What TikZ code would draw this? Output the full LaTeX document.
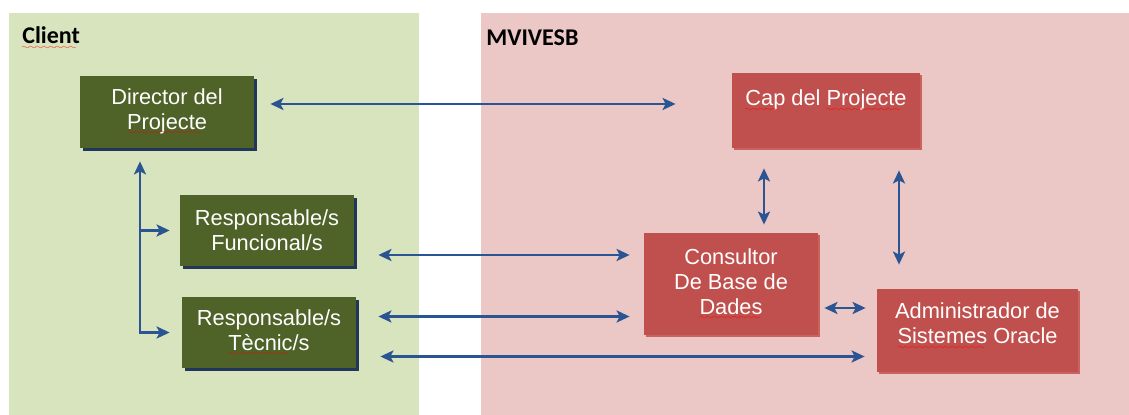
\documentclass[tikz,border=0pt]{standalone}
\usepackage{fontspec}
\setmainfont{Liberation Sans}
\newfontfamily\headfont{Carlito}
\usepackage{xcolor}
\usepackage{tikz}
\usetikzlibrary{positioning}
\usetikzlibrary{calc}
\usetikzlibrary{shadows}
\usetikzlibrary{arrows.meta}

\definecolor{clientbg}{HTML}{D7E4BD}
\definecolor{mvbg}{HTML}{EBC7C6}
\definecolor{greenfill}{HTML}{4F6228}
\definecolor{redfill}{HTML}{C0504D}
\definecolor{navyshadow}{HTML}{22365A}
\definecolor{redshadow}{HTML}{C86360}
\definecolor{arrowblue}{HTML}{2A5592}

\font\wavefont=lasy6 at 4pt
\newsavebox\spellbox
\newcommand\spell[1]{\sbox\spellbox{#1}\rlap{\usebox\spellbox}\raisebox{-2.6pt}{\textcolor{red}{\wavefont\leaders\hbox{\char58}\hskip\wd\spellbox}}}

\begin{document}
\begin{tikzpicture}[x=0.5pt,y=0.5pt,
	head/.style={inner sep=0pt,anchor=west,font=\headfont\bfseries\fontsize{12}{14}\selectfont},
	box/.style={text=white,align=center,inner sep=0pt,font=\fontsize{10.9}{12.5}\selectfont},
	greenbox/.style={box,fill=greenfill,drop shadow={shadow xshift=1.5pt,shadow yshift=-1.5pt,fill=navyshadow,opacity=1}},
	redbox/.style={box,fill=redfill,drop shadow={shadow xshift=1pt,shadow yshift=-1pt,fill=redshadow,opacity=1}},
	arr/.style={draw=arrowblue,line width=1.3pt,{Stealth[length=6.5pt,width=6pt,inset=1.5pt]}-{Stealth[length=6.5pt,width=6pt,inset=1.5pt]}},
	arrone/.style={draw=arrowblue,line width=1.3pt,-{Stealth[length=6.5pt,width=6pt,inset=1.5pt]}}]
	\useasboundingbox (0,0) rectangle (1129,415);
	\fill[clientbg] (9,0) rectangle (419,402);
	\fill[mvbg] (481,0) rectangle (1129,402);

	\node[head] (cl) at (22,377) {\spell{Client}};
	\node[head] (mv) at (486,377) {MVIVESB};

	\node[greenbox, minimum width=87pt, minimum height=36pt] (dir) at (167,303) {Director del\\\spell{Projecte}};
	\node[greenbox, minimum width=87pt, minimum height=35.5pt] (fun) at (267,184.5) {Responsable/s\\Funcional/s};
	\node[greenbox, minimum width=87pt, minimum height=35.5pt] (tec) at (269,82.5) {Responsable/s\\\spell{Tècnic}/s};
	\node[redbox, minimum width=94pt, minimum height=37.5pt] (cap) at (826,304.5) {\spell{Cap} del \spell{Projecte}\\\mbox{}};
	\node[redbox, minimum width=87pt, minimum height=51pt] (con) at (731,131) {Consultor\\De Base de\\\spell{Dades}};
	\node[redbox, minimum width=100.5pt, minimum height=41.5pt] (adm) at (977.5,84.5) {Administrador de\\\spell{Sistemes} Oracle\\[-5.5pt]\mbox{}};

	\coordinate (trunk) at ($(dir.south)+(-27,-13)$);
	\draw[arr] (trunk) |- ($(tec.west)+(-12,0)$);
	\draw[arrone] (trunk |- fun.west) -- ($(fun.west)+(-10,0)$);

	\draw[arr] ($(dir.east)+(16,8)$) -- ($(cap.west)+(-56,6.5)$);
	\draw[arr] ($(fun.east)+(24,-24.5)$) -- ($(con.west)+(-14,29)$);
	\draw[arr] ($(tec.east)+(22,16)$) -- ($(con.west)+(-14,-32.5)$);
	\draw[arr] ($(tec.east)+(24,-24)$) -- ($(adm.west)+(-12,-26)$);
	\draw[arr] ($(con.east)+(6,-24)$) -- ($(adm.west)+(-11,22.5)$);
	\draw[arr] ($(cap.south)+(-62,-20)$) -- ($(con.north)+(33,8)$);
	\draw[arr] ($(cap.south)+(73,-22)$) -- ($(adm.north)+(-78.5,24)$);
\end{tikzpicture}
\end{document}
